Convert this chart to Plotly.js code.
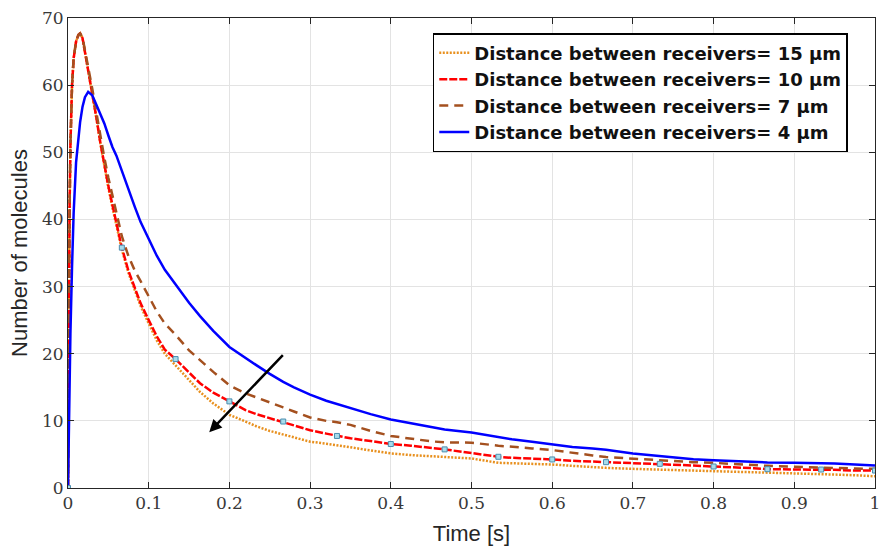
<!DOCTYPE html>
<html>
<head>
<meta charset="utf-8">
<script src="https://cdn.plot.ly/plotly-3.0.1.min.js"></script>
<style>html,body{margin:0;padding:0;background:#fff;}#chart{width:880px;height:553px;}</style>
</head>
<body>
<div id="chart"></div>
<script>
// Shared time axis (s)
var time = [0, 0.001, 0.002, 0.003, 0.005, 0.007, 0.01, 0.013, 0.015, 0.018, 0.021, 0.025, 0.03, 0.035, 0.04, 0.045, 0.05, 0.055, 0.06, 0.0667, 0.075, 0.083, 0.09, 0.1, 0.11, 0.12, 0.1333, 0.15, 0.1636, 0.18, 0.2, 0.22, 0.2333, 0.25, 0.2667, 0.28, 0.3, 0.32, 0.3333, 0.35, 0.375, 0.4, 0.425, 0.45, 0.4667, 0.5, 0.5333, 0.55, 0.575, 0.6, 0.625, 0.65, 0.6667, 0.7, 0.7333, 0.75, 0.775, 0.8, 0.825, 0.85, 0.8667, 0.9, 0.9333, 0.95, 0.975, 1.0];

// Distance between receivers = 15 um
var d15 = [0, 25, 42, 51, 60, 64, 66.5, 67.5, 67.7, 67, 65, 62, 59, 55.2, 51.4, 47.8, 44.7, 41.8, 39.2, 35.5, 32, 29.4, 27.1, 24.5, 22, 20, 18.3, 16.1, 14.3, 12.6, 10.9, 9.9, 9.2, 8.5, 8.0, 7.6, 6.9, 6.6, 6.35, 6.15, 5.6, 5.15, 4.9, 4.7, 4.6, 4.4, 3.75, 3.7, 3.6, 3.5, 3.3, 3.1, 3.0, 2.85, 2.75, 2.65, 2.6, 2.5, 2.4, 2.35, 2.3, 2.15, 2.05, 2.0, 1.9, 1.75];

// Distance between receivers = 10 um
var d10 = [0, 25, 42, 51, 60, 64, 66.5, 67.5, 67.7, 67, 65, 62, 59, 55.3, 51.5, 48, 45, 42.2, 39.6, 35.8, 32.3, 29.8, 27.5, 25, 22.6, 20.6, 19.2, 17.2, 15.6, 14.2, 12.9, 11.6, 11, 10.4, 9.9, 9.4, 8.6, 8.1, 7.75, 7.4, 7.0, 6.55, 6.3, 6.0, 5.75, 5.2, 4.65, 4.5, 4.4, 4.25, 4.05, 3.95, 3.85, 3.75, 3.6, 3.45, 3.35, 3.2, 3.1, 2.95, 2.8, 2.8, 2.75, 2.7, 2.6, 2.6];

// Distance between receivers = 7 um
var d7 = [0, 25, 42, 51, 60, 64, 66.5, 67.5, 67.7, 67.1, 65.3, 62.5, 59.5, 56, 52.5, 49.2, 46.2, 43.5, 41, 37.5, 34.5, 32.3, 30.8, 28.5, 26.3, 24.5, 22.8, 20.5, 19.0, 17.3, 15.3, 14.1, 13.5, 12.8, 12, 11.4, 10.5, 10.0, 9.8, 9.4, 8.5, 7.75, 7.3, 6.95, 6.8, 6.75, 6.3, 6.1, 5.9, 5.65, 5.2, 4.85, 4.6, 4.35, 4.15, 4.0, 3.85, 3.75, 3.55, 3.4, 3.3, 3.15, 3.0, 2.95, 2.9, 2.85];

// Distance between receivers = 4 um
var d4 = [0, 9, 17, 23, 33, 41, 48.5, 52.5, 54.5, 56.8, 58.2, 59, 58.5, 57.1, 55.8, 54.3, 52.5, 50.8, 49.5, 47.2, 44.5, 41.8, 39.6, 37, 34.6, 32.5, 30.3, 27.6, 25.6, 23.4, 21.0, 19.3, 18.3, 17.0, 15.8, 15.0, 13.9, 13.0, 12.5, 11.9, 11.0, 10.2, 9.6, 9.1, 8.7, 8.25, 7.6, 7.25, 6.9, 6.5, 6.1, 5.9, 5.7, 5.15, 4.75, 4.5, 4.3, 4.15, 4.0, 3.85, 3.8, 3.75, 3.7, 3.65, 3.5, 3.35];

// Marker points on the 10 um curve
var markTime = [0, 0.0667, 0.1333, 0.2, 0.2667, 0.3333, 0.4, 0.4667, 0.5333, 0.6, 0.6667, 0.7333, 0.8, 0.8667, 0.9333, 1.0];
var markVal = [0, 35.8, 19.2, 12.9, 9.9, 7.75, 6.55, 5.75, 4.65, 4.25, 3.85, 3.6, 3.2, 2.8, 2.75, 2.6];

var names = ['Distance between receivers= 15 μm', 'Distance between receivers= 10 μm', 'Distance between receivers= 7 μm', 'Distance between receivers= 4 μm'];
var xTicks = [0, 0.1, 0.2, 0.3, 0.4, 0.5, 0.6, 0.7, 0.8, 0.9, 1];
var xTickText = ['0', '0.1', '0.2', '0.3', '0.4', '0.5', '0.6', '0.7', '0.8', '0.9', '1'];
var yTicks = [0, 10, 20, 30, 40, 50, 60, 70];

var traces = [
  {x: time, y: d15, name: names[0], mode: 'lines', line: {color: '#E8901E', width: 2.5, dash: '2px,1.5px'}},
  {x: time, y: d10, name: names[1], mode: 'lines', line: {color: '#FF0000', width: 2.5, dash: '8px,2px'}},
  {x: time, y: d7, name: names[2], mode: 'lines', line: {color: '#A4501F', width: 2.5, dash: '9px,6px'}},
  {x: time, y: d4, name: names[3], mode: 'lines', line: {color: '#0000FF', width: 2.5}},
  {x: markTime, y: markVal, mode: 'markers', showlegend: false, hoverinfo: 'skip',
   marker: {symbol: 'square', size: 5, color: '#A8DCEB', line: {color: '#4A8DB0', width: 1}}}
];

var axisCommon = {
  showline: true, linecolor: '#262626', linewidth: 1, mirror: 'allticks',
  ticks: 'inside', ticklen: 6, tickcolor: '#262626', tickwidth: 1,
  showgrid: true, gridcolor: '#e3e3e3', gridwidth: 1, zeroline: false,
  ticklabeloverflow: 'allow',
  tickfont: {family: 'DejaVu Serif, Liberation Serif, serif', size: 17, color: '#383838'}
};

var layout = {
  width: 880, height: 553,
  margin: {l: 68, r: 5, t: 18, b: 65},
  paper_bgcolor: '#ffffff', plot_bgcolor: '#ffffff',
  showlegend: true,
  xaxis: Object.assign({}, axisCommon, {
    range: [0, 1], tickmode: 'array', tickvals: xTicks, ticktext: xTickText,
    title: {text: 'Time [s]', font: {family: 'Liberation Sans, Arial, sans-serif', size: 22, color: '#262626'}, standoff: 13}
  }),
  yaxis: Object.assign({}, axisCommon, {
    range: [0, 70], tickmode: 'array', tickvals: yTicks,
    title: {text: 'Number of molecules', font: {family: 'Liberation Sans, Arial, sans-serif', size: 22, color: '#262626'}, standoff: 8}
  }),
  legend: {
    x: 0.452, y: 0.968, xanchor: 'left', yanchor: 'top',
    bgcolor: '#ffffff', bordercolor: '#000000', borderwidth: 1.5,
    font: {family: 'DejaVu Sans, Liberation Sans, sans-serif', size: 18, color: '#111111', weight: 'bold'},
    itemwidth: 30, tracegroupgap: 0
  },
  annotations: [{
    x: 0.175, y: 8.3, xref: 'x', yref: 'y',
    ax: 0.268, ay: 20, axref: 'x', ayref: 'y',
    text: '', showarrow: true, arrowhead: 2, arrowsize: 1, arrowwidth: 2.5, arrowcolor: '#000000'
  }]
};

Plotly.newPlot('chart', traces, layout, {displayModeBar: false, staticPlot: true});
</script>
</body>
</html>
